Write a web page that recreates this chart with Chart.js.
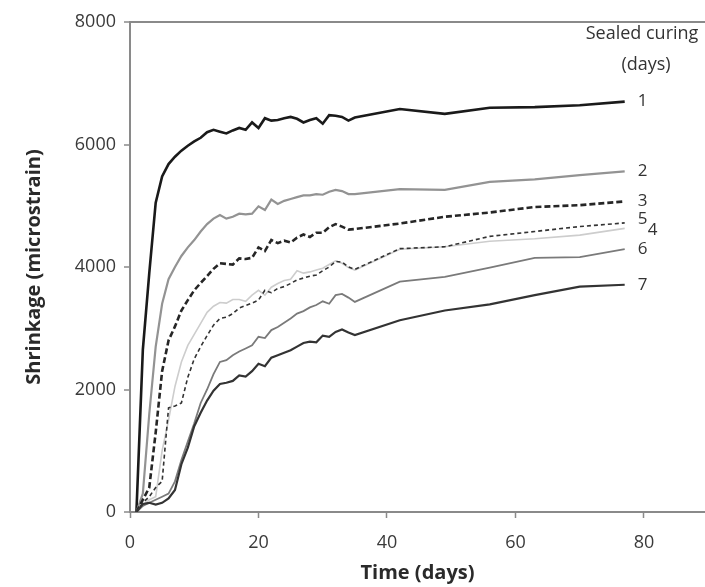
<!DOCTYPE html>
<html>
<head>
<meta charset="utf-8">
<script src="https://cdn.jsdelivr.net/npm/chart.js@4.4.1/dist/chart.umd.min.js"></script>
<style>
    html, body { margin: 0; padding: 0; background: #fff; }
    #wrap { width: 705px; height: 587px; position: relative; }
</style>
</head>
<body>
<div id="wrap"><canvas id="shrinkage-chart"></canvas></div>
<script>
// days of measurement: daily up to 35, then weekly
const days = [1, 2, 3, 4, 5, 6, 7, 8, 9, 10, 11, 12, 13, 14, 15, 16, 17, 18, 19, 20,
    21, 22, 23, 24, 25, 26, 27, 28, 29, 30, 31, 32, 33, 34, 35, 42, 49, 56, 63, 70, 77];

const sealed1 = [0, 2650, 3900, 5050, 5480, 5680, 5800, 5900, 5980, 6050, 6110, 6200, 6240, 6210, 6180, 6230, 6270, 6240, 6360, 6270,
    6430, 6390, 6400, 6430, 6450, 6420, 6360, 6400, 6430, 6340, 6480, 6470, 6450, 6390, 6440, 6580, 6500, 6600, 6610, 6640, 6700];
const sealed2 = [0, 300, 1600, 2700, 3400, 3800, 4000, 4180, 4320, 4440, 4580, 4700, 4790, 4850, 4790, 4820, 4870, 4860, 4870, 4990,
    4930, 5100, 5030, 5080, 5110, 5140, 5170, 5170, 5190, 5180, 5230, 5260, 5240, 5190, 5190, 5270, 5260, 5390, 5430, 5500, 5560];
const sealed3 = [0, 200, 400, 1300, 2300, 2800, 3030, 3290, 3460, 3620, 3740, 3850, 3970, 4060, 4050, 4040, 4140, 4130, 4150, 4320,
    4260, 4440, 4390, 4430, 4400, 4480, 4530, 4490, 4560, 4560, 4650, 4700, 4660, 4610, 4620, 4710, 4820, 4890, 4980, 5010, 5070];
const sealed4 = [0, 100, 200, 250, 1000, 1500, 2050, 2450, 2720, 2900, 3080, 3260, 3360, 3420, 3410, 3470, 3470, 3440, 3540, 3620,
    3540, 3670, 3730, 3780, 3800, 3940, 3900, 3920, 3950, 3980, 4040, 4100, 4060, 3990, 3950, 4290, 4330, 4420, 4460, 4520, 4630];
const sealed5 = [0, 150, 250, 400, 500, 1700, 1730, 1780, 2200, 2500, 2700, 2880, 3050, 3160, 3180, 3240, 3330, 3370, 3410, 3460,
    3620, 3580, 3650, 3680, 3730, 3790, 3820, 3850, 3870, 3940, 4000, 4090, 4080, 4000, 3960, 4300, 4330, 4500, 4580, 4660, 4720];
const sealed6 = [0, 100, 150, 200, 250, 300, 500, 850, 1150, 1450, 1780, 2000, 2250, 2450, 2480, 2560, 2620, 2670, 2720, 2860,
    2840, 2970, 3020, 3090, 3160, 3240, 3280, 3340, 3380, 3440, 3400, 3540, 3560, 3500, 3430, 3760, 3840, 3990, 4150, 4160, 4290];
const sealed7 = [0, 130, 150, 120, 150, 220, 360, 780, 1050, 1400, 1620, 1820, 1980, 2090, 2110, 2140, 2230, 2210, 2300, 2420,
    2380, 2520, 2560, 2600, 2640, 2700, 2760, 2780, 2770, 2880, 2860, 2940, 2980, 2930, 2890, 3130, 3290, 3390, 3540, 3680, 3710];

const curingLabels = ["1", "2", "3", "4", "5", "6", "7"];
const xTicks = [0, 20, 40, 60, 80];
const yTicks = [0, 2000, 4000, 6000, 8000];

const FONT = "'Open Sans', sans-serif";

function pts(vals) {
    return vals.map((v, i) => ({ x: days[i], y: v }));
}

// line looks, in the same order as the curing labels
const looks = [
    { color: "#1a1a1a", width: 2.6, dash: [] },
    { color: "#939393", width: 2.2, dash: [] },
    { color: "#262626", width: 2.6, dash: [6, 3] },
    { color: "#cdcdcd", width: 1.6, dash: [] },
    { color: "#333333", width: 1.6, dash: [4, 3] },
    { color: "#7a7a7a", width: 1.8, dash: [] },
    { color: "#333333", width: 2.2, dash: [] }
];
const series = [sealed1, sealed2, sealed3, sealed4, sealed5, sealed6, sealed7];

// end labels sit next to the last point of each curve; 5 and 4 are nudged apart
const labelNudge = [[13, 0], [13, 0], [13, 0], [23, 2], [13, -4], [13, 0], [13, 0]];

const endLabels = {
    id: "endLabels",
    afterDatasetsDraw(chart) {
        const c = chart.ctx;
        const xs = chart.scales.x, ys = chart.scales.y;
        c.save();
        c.fillStyle = "#333";
        c.font = "17px " + FONT;
        c.textBaseline = "middle";
        c.textAlign = "left";
        series.forEach((vals, i) => {
            const n = vals.length - 1;
            const px = xs.getPixelForValue(days[n]) + labelNudge[i][0];
            const py = ys.getPixelForValue(vals[n]) + labelNudge[i][1];
            c.fillText(curingLabels[i], px, py);
        });
        c.textAlign = "center";
        c.font = "18px " + FONT;
        const cx = chart.chartArea.right - 63;
        c.fillText("Sealed curing", cx, chart.chartArea.top + 12);
        c.fillText("(days)", cx + 4, chart.chartArea.top + 43);
        c.restore();
    }
};

new Chart(document.getElementById("shrinkage-chart"), {
    type: "line",
    data: {
        datasets: series.map((vals, i) => ({
            label: curingLabels[i],
            data: pts(vals),
            borderColor: looks[i].color,
            borderWidth: looks[i].width,
            borderDash: looks[i].dash,
            pointRadius: 0,
            tension: 0,
            fill: false,
            order: 7 - i
        }))
    },
    options: {
        responsive: true,
        maintainAspectRatio: false,
        animation: false,
        layout: { padding: { top: 22, right: 0, left: 0, bottom: 0 } },
        plugins: {
            legend: { display: false },
            tooltip: { enabled: false }
        },
        scales: {
            x: {
                type: "linear",
                min: 0,
                max: 89.5,
                afterBuildTicks: s => { s.ticks = xTicks.map(v => ({ value: v })); },
                afterFit: s => { s.height = 75; },
                border: { color: "#8a8a8a", width: 2 },
                grid: { drawOnChartArea: false, tickLength: 6, tickColor: "#8a8a8a", tickWidth: 1.5 },
                ticks: {
                    color: "#3a3a3a", font: { family: FONT, size: 18 }, padding: 14, maxRotation: 0,
                    callback: v => String(v)
                },
                title: {
                    display: true,
                    text: "Time (days)",
                    color: "#2a2a2a",
                    font: { family: FONT, size: 20, weight: "bold" },
                    padding: { top: 0, bottom: 2 }
                }
            },
            y: {
                min: 0,
                max: 8000,
                afterBuildTicks: s => { s.ticks = yTicks.map(v => ({ value: v })); },
                afterFit: s => { s.width = 130; },
                border: { color: "#8a8a8a", width: 2 },
                grid: {
                    // only the top edge of the plot box is drawn across
                    color: ctx => (ctx.tick && ctx.tick.value === 8000 ? "#8a8a8a" : "rgba(0,0,0,0)"),
                    lineWidth: 2,
                    tickLength: 6,
                    tickColor: "#8a8a8a",
                    tickWidth: 1.5
                },
                ticks: {
                    color: "#3a3a3a", font: { family: FONT, size: 18 }, padding: 8,
                    callback: v => String(v)
                },
                title: {
                    display: true,
                    text: "Shrinkage (microstrain)",
                    color: "#2a2a2a",
                    font: { family: FONT, size: 20, weight: "bold" },
                    padding: { top: 22, bottom: 6 }
                }
            }
        }
    },
    plugins: [endLabels]
});
</script>
</body>
</html>
